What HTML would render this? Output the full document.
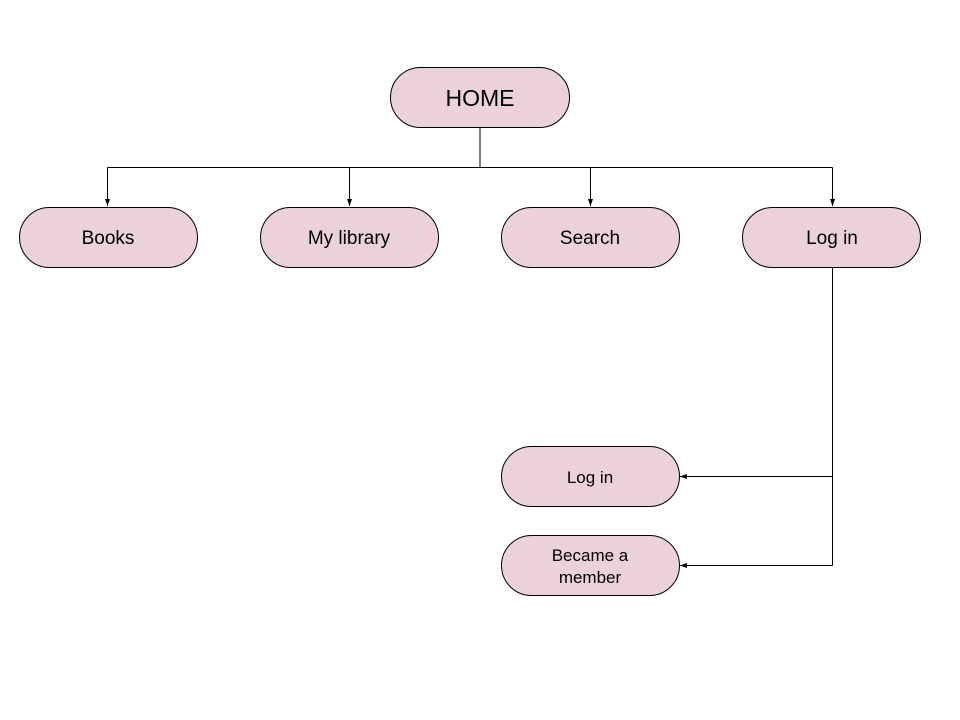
<!DOCTYPE html>
<html><head><meta charset="utf-8"><style>
html,body{margin:0;padding:0;background:#fff;}
svg{display:block;}
text{font-family:"Liberation Sans",Arial,sans-serif;fill:#000;text-anchor:middle;}
</style></head><body>
<svg width="960" height="720" viewBox="0 0 960 720" xmlns="http://www.w3.org/2000/svg">
<defs><marker id="a" markerWidth="8" markerHeight="8" refX="7" refY="4" orient="auto" markerUnits="userSpaceOnUse"><path d="M0,1.5 L7,4 L0,6.5 Z" fill="#000"/></marker></defs>
<g fill="none" stroke="#000" stroke-width="1">
<path d="M480 127 V167.5 M107.5 167.5 H832.5"/>
<path d="M107.5 167.5 V206" marker-end="url(#a)"/>
<path d="M349.5 167.5 V206" marker-end="url(#a)"/>
<path d="M590.5 167.5 V206" marker-end="url(#a)"/>
<path d="M832.5 167.5 V206" marker-end="url(#a)"/>
<path d="M832.5 267 V565.5"/>
<path d="M832.5 476.5 H680" marker-end="url(#a)"/>
<path d="M832.5 565.5 H680" marker-end="url(#a)"/>
</g>
<g fill="#ead1dc" stroke="#000" stroke-width="1">
<rect x="390.5" y="67.5" width="179" height="60" rx="30"/>
<rect x="19.5" y="207.5" width="178" height="60" rx="30"/>
<rect x="260.5" y="207.5" width="178" height="60" rx="30"/>
<rect x="501.5" y="207.5" width="178" height="60" rx="30"/>
<rect x="742.5" y="207.5" width="178" height="60" rx="30"/>
<rect x="501.5" y="446.5" width="178" height="60" rx="30"/>
<rect x="501.5" y="535.5" width="178" height="60" rx="30"/>
</g>
<text x="480" y="106" font-size="23">HOME</text>
<text x="108" y="244" font-size="19">Books</text>
<text x="349" y="244" font-size="19">My library</text>
<text x="590" y="244" font-size="19">Search</text>
<text x="832" y="244" font-size="19">Log in</text>
<text x="590" y="483" font-size="17">Log in</text>
<text x="590" y="561" font-size="17">Became a</text>
<text x="590" y="583" font-size="17">member</text>
</svg>
</body></html>
